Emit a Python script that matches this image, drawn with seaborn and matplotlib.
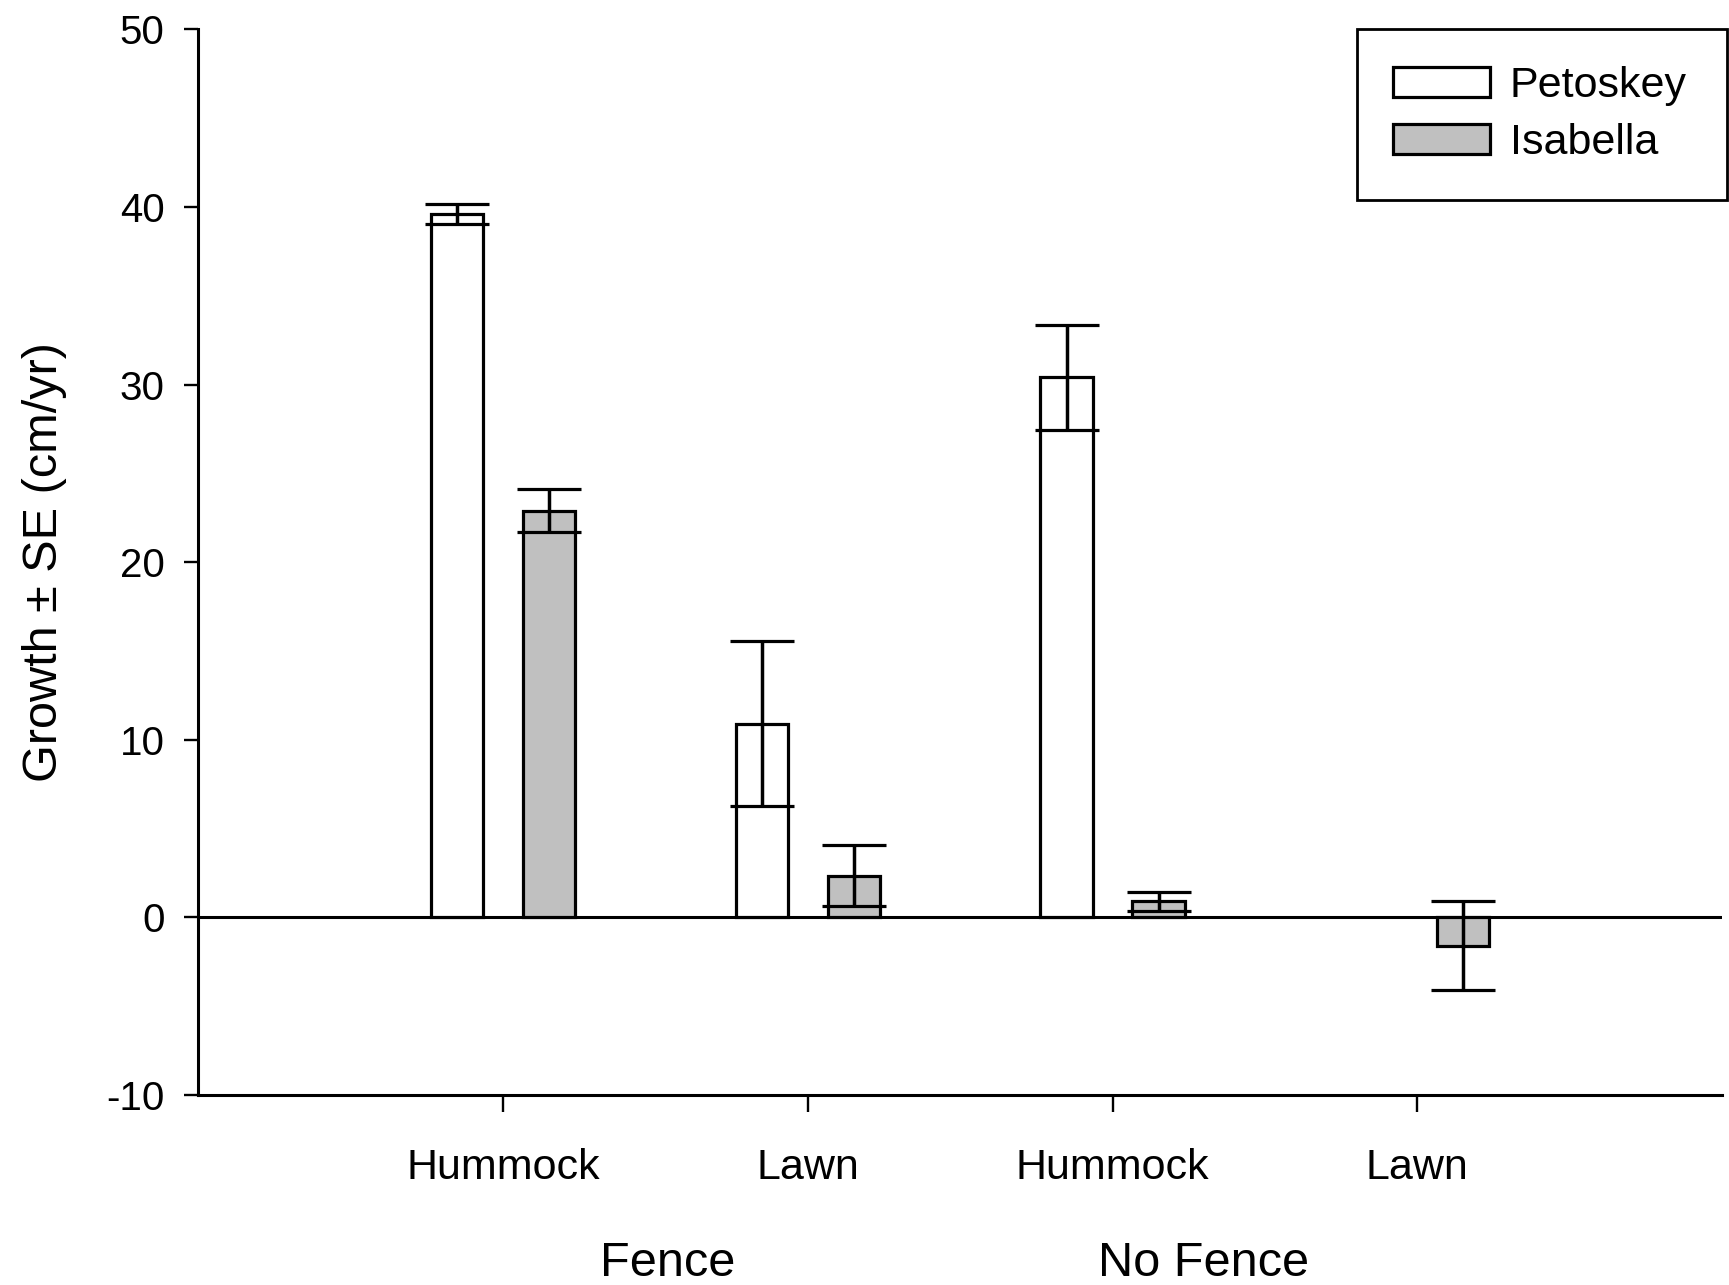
import matplotlib
matplotlib.use("Agg")
import matplotlib.pyplot as plt
import matplotlib.patches as mpatches
import matplotlib.transforms as mtransforms
import seaborn as sns
import pandas as pd
import numpy as np

# data
treatment = ["Fence", "Fence", "No Fence", "No Fence"]
habitat = ["Hummock", "Lawn", "Hummock", "Lawn"]
varieties = ["Petoskey", "Isabella"]
petoskey_growth = [39.6, 10.9, 30.4, np.nan]   # no Petoskey bar for No Fence / Lawn
petoskey_se = [0.55, 4.65, 2.95, np.nan]
isabella_growth = [22.9, 2.35, 0.9, -1.6]
isabella_se = [1.2, 1.7, 0.54, 2.5]
group_labels = ["Fence", "No Fence"]
group_label_x = [0.54, 2.30]

colors = {"Petoskey": "white", "Isabella": "#c0c0c0"}

sns.set_theme(style="ticks")
plt.rcParams["font.family"] = ["Liberation Sans", "DejaVu Sans"]
plt.rcParams["axes.unicode_minus"] = False
for key in ["text.color", "axes.labelcolor", "axes.edgecolor", "xtick.color", "ytick.color"]:
    plt.rcParams[key] = "black"

# long table for seaborn
cells = [f"{t} {h}" for t, h in zip(treatment, habitat)]
df = pd.DataFrame({
    "cell": cells * 2,
    "variety": ["Petoskey"] * 4 + ["Isabella"] * 4,
    "growth": petoskey_growth + isabella_growth,
    "se": petoskey_se + isabella_se,
}).dropna()

fig = plt.figure(figsize=(17.29, 12.85), dpi=100)
ax = fig.add_axes([0.1148, 0.14786, 0.8811, 0.8293])

sns.barplot(data=df, x="cell", y="growth", hue="variety", order=cells,
            hue_order=varieties, palette=colors, saturation=1, width=0.604,
            gap=0.43, edgecolor="black", linewidth=2.3, errorbar=None,
            legend=False, ax=ax, zorder=2)

# error bars from the SE column, placed on the bars seaborn drew
for variety, container in zip(varieties, ax.containers):
    sub = df[df["variety"] == variety].set_index("cell")
    for bar in container:
        xc = bar.get_x() + bar.get_width() / 2
        cell = cells[int(round(xc))]
        ax.errorbar(xc, sub.loc[cell, "growth"], yerr=sub.loc[cell, "se"],
                    fmt="none", ecolor="black", elinewidth=2.5, capsize=23,
                    capthick=2.3, zorder=3)

ax.axhline(0, color="black", linewidth=2.2, zorder=1)

ax.set_ylim(-10, 50)
ax.set_yticks(range(-10, 51, 10))
ax.set_xlim(-1, 4)
ax.set_xticks(range(len(habitat)))
ax.set_xticklabels(habitat)
ax.set_xlabel("")
ax.set_ylabel("Growth \u00b1 SE (cm/yr)", fontsize=35, labelpad=28)

sns.despine(ax=ax)
for side in ["left", "bottom"]:
    ax.spines[side].set_linewidth(2.2)
ax.tick_params(axis="y", labelsize=29, length=10, width=1.7, pad=14.5)
ax.tick_params(axis="x", labelsize=31, length=12, width=1.7, pad=26.5)

# treatment labels under the habitat labels
trans = mtransforms.blended_transform_factory(ax.transData, fig.transFigure)
for lab, xpos in zip(group_labels, group_label_x):
    fig.text(xpos, 0.007, lab, transform=trans, ha="center", va="baseline", fontsize=35)

handles = [mpatches.Patch(facecolor=colors[v], edgecolor="black", linewidth=2.3) for v in varieties]
leg = ax.legend(handles, varieties, loc="upper left", mode="expand",
                bbox_to_anchor=(0.7604, 0.8, 0.2429, 0.2),
                fontsize=31, frameon=True, fancybox=False, borderaxespad=0,
                handlelength=2.25, handleheight=0.72, handletextpad=0.45,
                labelspacing=0.4, borderpad=0.85)
leg.get_frame().set_edgecolor("black")
leg.get_frame().set_linewidth(2.0)
leg.get_frame().set_alpha(1)

fig.savefig("out.png", dpi=100, facecolor="white")
